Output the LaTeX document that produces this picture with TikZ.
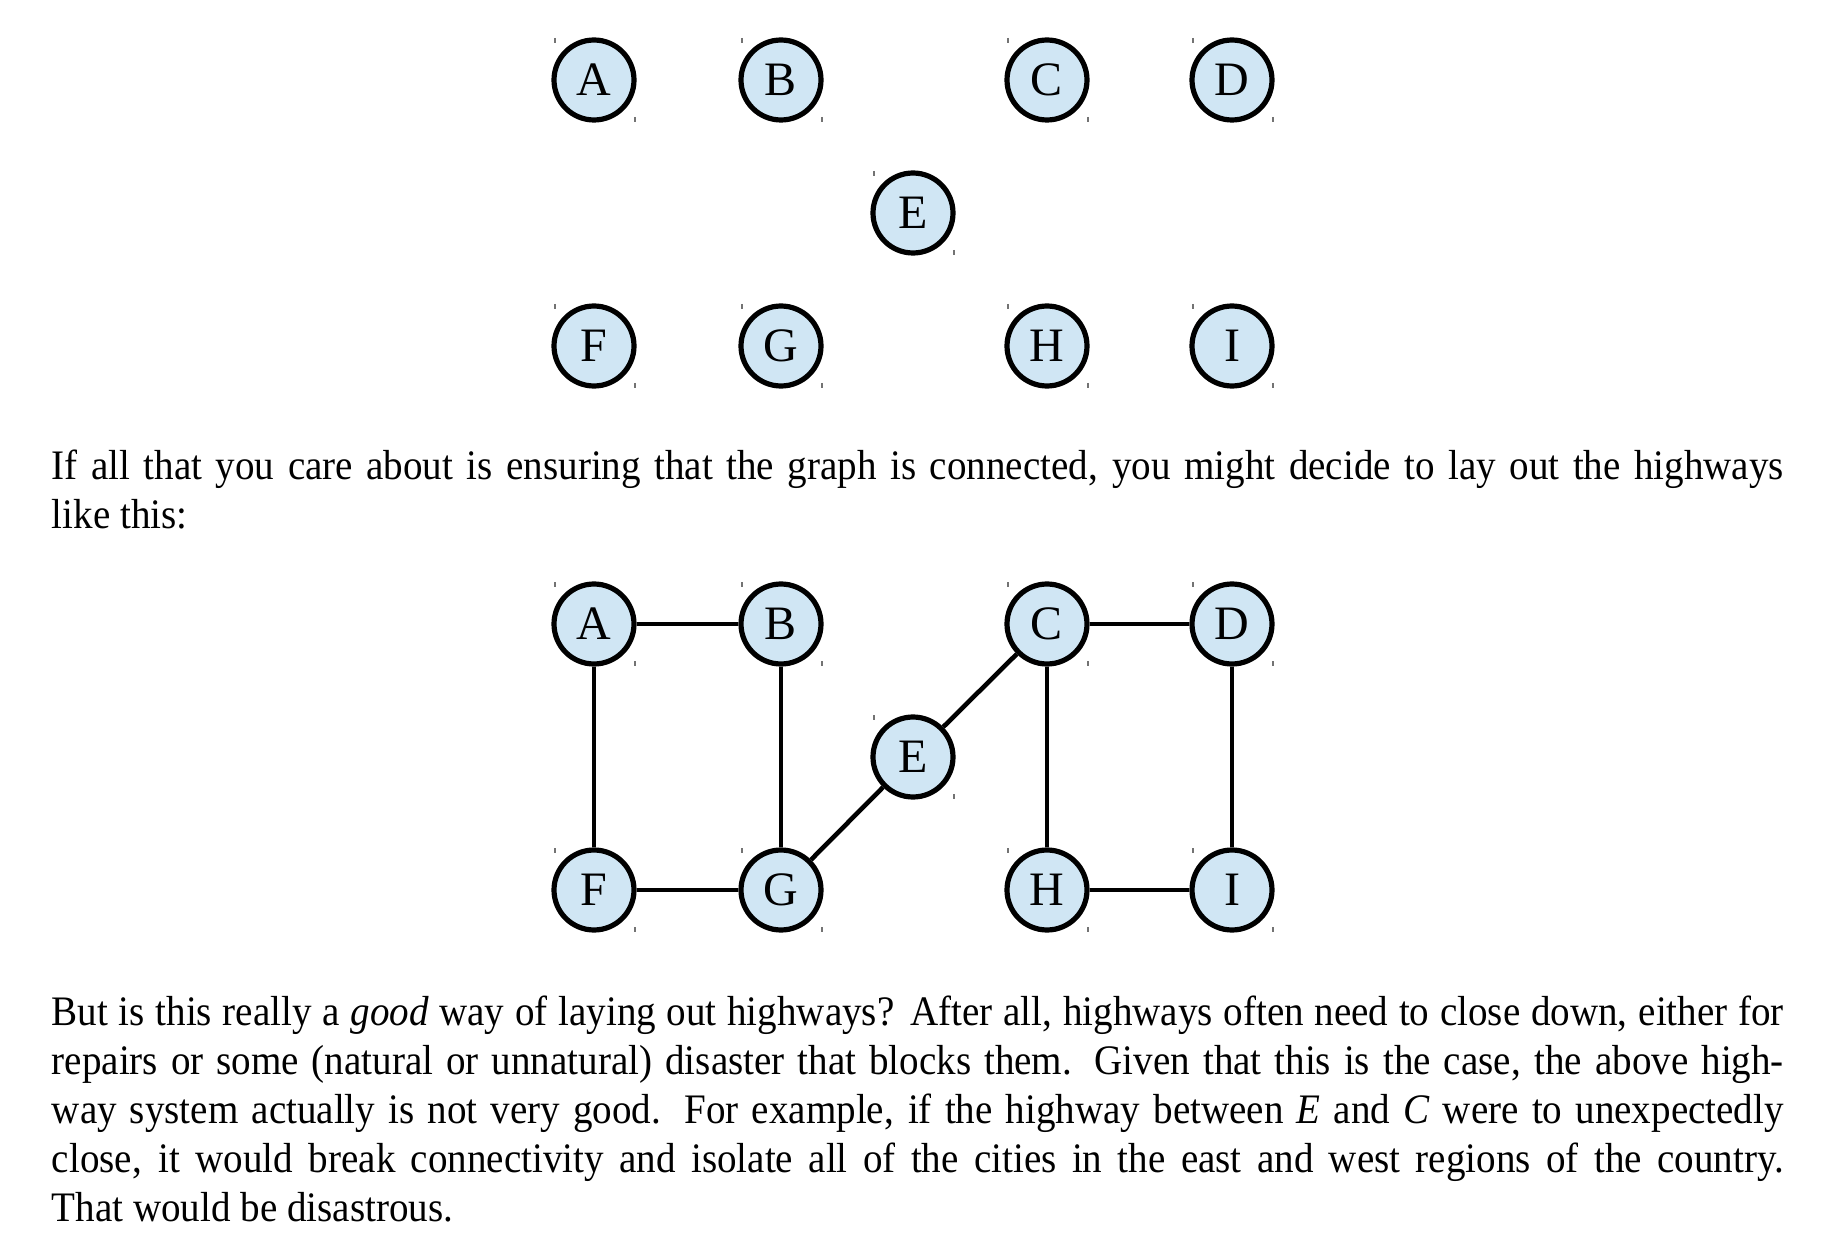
\documentclass[tikz,border=0pt]{standalone}
\usepackage{fontspec}
\setmainfont{Liberation Serif}
\newfontfamily\narrowserif{Liberation Serif}[FakeStretch=0.93]
\definecolor{cityblue}{RGB}{208,230,244}
\begin{document}
\begin{tikzpicture}[x=0.25pt,y=-0.25pt,
	city/.style={circle,draw,line width=1.3pt,fill=cityblue,minimum size=20pt,inner sep=0pt,font=\fontsize{12}{12}\selectfont},
	road/.style={line width=1.15pt},
	cropmark/.style={black!55,line width=0.3pt},
	para/.style={anchor=base west,inner sep=0pt,text width=433pt,align=justify,font=\narrowserif\fontsize{10.5}{12.25}\selectfont}]
	\useasboundingbox (0,0) rectangle (1844,1252);
	% cities, once without and once with highways
	\foreach \n/\x/\y in {A/594/80,B/781/80,C/1047/80,D/1232/80,E/913/213,F/594/346,G/781/346,H/1047/346,I/1232/346}{
		\node[city] (\n1) at (\x,\y) {\n};
		\node[city] (\n2) at (\x,\y+544) {\n};
		\draw[cropmark] (\x-39,\y-42) -- ++(0,5) (\x+41,\y+37) -- ++(0,5);
		\draw[cropmark] (\x-39,\y+502) -- ++(0,5) (\x+41,\y+581) -- ++(0,5);
	}
	\node[para] (intro) at (51,480) {If all that you care about is ensuring that the graph is connected, you might decide to lay out the highways\linebreak like this:};
	\draw[road] (A2) -- (B2) (A2) -- (F2) (B2) -- (G2) (F2) -- (G2);
	\draw[road] (G2) -- (E2) -- (C2);
	\draw[road] (C2) -- (D2) (C2) -- (H2) (D2) -- (I2) (H2) -- (I2);
	\node[para] (remark) at (51,1025) {But is this really a \textit{good} way of laying out highways?  After all, highways often need to close down, either for\linebreak repairs or some (natural or unnatural) disaster that blocks them.  Given that this is the case, the above high-\linebreak way system actually is not very good.  For example, if the highway between \textit{E} and \textit{C} were to unexpectedly\linebreak close, it would break connectivity and isolate all of the cities in the east and west regions of the country.\linebreak That would be disastrous.};
\end{tikzpicture}
\end{document}
